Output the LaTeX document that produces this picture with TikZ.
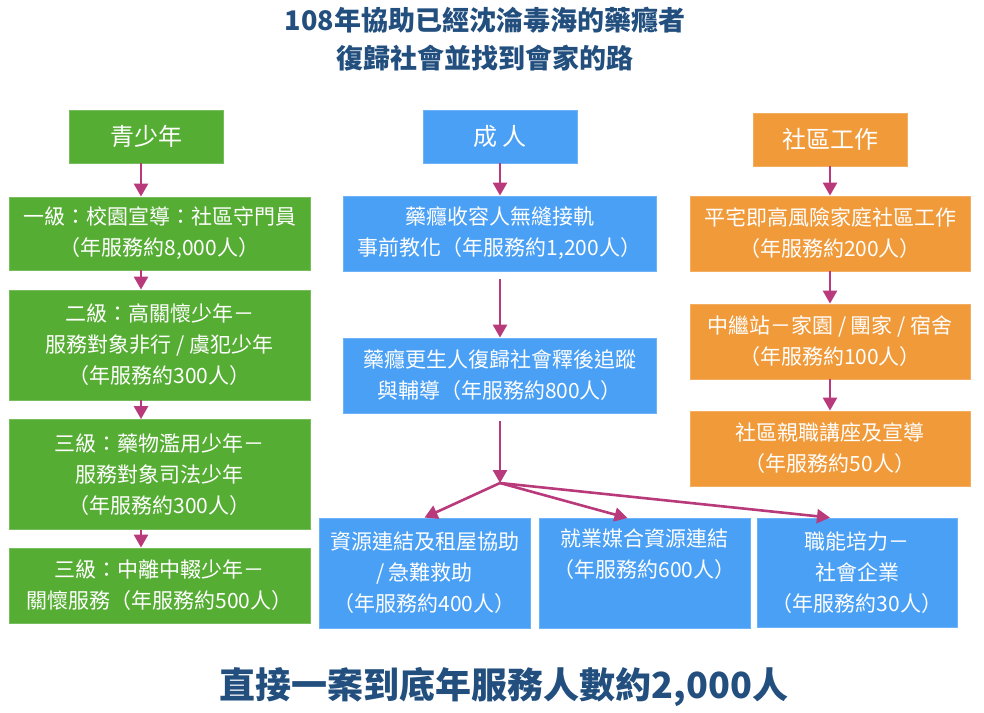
\documentclass[tikz,border=0pt]{standalone}
\usepackage{fontspec}
\setmainfont{Noto Sans CJK TC}
\usetikzlibrary{arrows.meta}
\definecolor{cgreen}{HTML}{56AD34}
\definecolor{cblue}{HTML}{4AA0F5}
\definecolor{corange}{HTML}{F09A3A}
\definecolor{carrow}{HTML}{B83A7A}
\definecolor{ctitle}{HTML}{224F7E}
\tikzset{
  boxg/.style={fill=cgreen,draw=cgreen!80!white,line width=0.8pt},
  boxb/.style={fill=cblue,draw=cblue!80!white,line width=0.8pt},
  boxo/.style={fill=corange,draw=corange!80!white,line width=0.8pt},
  bx/.style={rectangle,inner sep=0pt,text=white,align=center,
    font=\fontsize{21}{31}\selectfont},
  hd/.style={rectangle,inner sep=0pt,text=white,align=center,
    minimum width=154pt,minimum height=53pt,font=\fontsize{24}{30}\selectfont},
  arr/.style={draw=carrow,line width=2.6pt,-{Triangle[length=13pt,width=14pt]}},
}
\begin{document}
\begin{tikzpicture}[x=1pt,y=-1pt]
\useasboundingbox (0,0) rectangle (984,712);
% title
\node[text=ctitle,font=\fontsize{27}{38}\bfseries\selectfont,align=center] (title) at (485,39.5)
  {108年協助已經沈淪毒海的藥癮者\\復歸社會並找到會家的路};
% headers
\node[hd,boxg] (lh) at (146,136.5) {青少年};
\node[hd,boxb] (mh) at (500,136.5) {成 人};
\node[hd,boxo] (rh) at (830,139.5) {社區工作};
% left column
\node[bx,boxg,minimum width=301pt,minimum height=73pt] (l1) at (159.5,233.5)
  {一級：校園宣導：社區守門員\\（年服務約8,000人）};
\node[bx,boxg,minimum width=301pt,minimum height=110pt] (l2) at (159.5,345)
  {二級：高關懷少年－\\服務對象非行 / 虞犯少年\\（年服務約300人）};
\node[bx,boxg,minimum width=301pt,minimum height=110pt] (l3) at (159.5,474.5)
  {三級：藥物濫用少年－\\服務對象司法少年\\（年服務約300人）};
\node[bx,boxg,minimum width=301pt,minimum height=75pt] (l4) at (159.5,585.5)
  {三級：中離中輟少年－\\關懷服務（年服務約500人）};
% middle column
\node[bx,boxb,minimum width=313pt,minimum height=75pt] (m1) at (499.5,233.5)
  {藥癮收容人無縫接軌\\事前教化（年服務約1,200人）};
\node[bx,boxb,minimum width=313pt,minimum height=75pt] (m2) at (499.5,375.5)
  {藥癮更生人復歸社會釋後追蹤\\與輔導（年服務約800人）};
\coordinate (j) at (500,483);
\node[bx,boxb,minimum width=211pt,minimum height=110pt] (ba) at (424.5,573)
  {資源連結及租屋協助\\/ 急難救助\\（年服務約400人）};
\node[bx,boxb,minimum width=211pt,minimum height=110pt,anchor=north] (bb) at (644.5,518)
  {就業媒合資源連結\\（年服務約600人）\\\strut};
\node[bx,boxb,minimum width=200pt,minimum height=109pt] (bc) at (857,572.5)
  {職能培力－\\社會企業\\（年服務約30人）};
% right column
\node[bx,boxo,minimum width=280pt,minimum height=75pt] (r1) at (830,233.5)
  {平宅即高風險家庭社區工作\\（年服務約200人）};
\node[bx,boxo,minimum width=280pt,minimum height=75pt] (r2) at (830,341.5)
  {中繼站－家園 / 團家 / 宿舍\\（年服務約100人）};
\node[bx,boxo,minimum width=280pt,minimum height=75pt] (r3) at (830,448.5)
  {社區親職講座及宣導\\（年服務約50人）};
% bottom
\node[text=ctitle,font=\fontsize{36}{44}\bfseries\selectfont] (total) at (504,687)
  {直接一案到底年服務人數約2,000人};
% arrows left
\draw[arr] ([xshift=-5pt]lh.south) -- ([xshift=-18.5pt]l1.north);
\draw[arr] ([xshift=-18.5pt]l1.south) -- ([xshift=-18.5pt]l2.north);
\draw[arr] ([xshift=-18.5pt]l2.south) -- ([xshift=-18.5pt]l3.north);
\draw[arr] ([xshift=-18.5pt]l3.south) -- ([xshift=-18.5pt]l4.north);
% arrows middle
\draw[arr] (mh.south) -- ([xshift=0.5pt]m1.north);
\draw[arr] ([xshift=0.5pt,yshift=-8pt]m1.south) -- ([xshift=0.5pt]m2.north);
\draw[arr] ([xshift=0.5pt,yshift=-8pt]m2.south) -- (j);
\draw[arr] (j) -- (ba.north);
\draw[arr] (j) -- ([xshift=-17pt]bb.north);
\draw[arr] (j) -- ([xshift=-27pt]bc.north);
% arrows right
\draw[arr] (rh.south) -- (r1.north);
\draw[arr] (r1.south) -- (r2.north);
\draw[arr] (r2.south) -- (r3.north);
\end{tikzpicture}
\end{document}
